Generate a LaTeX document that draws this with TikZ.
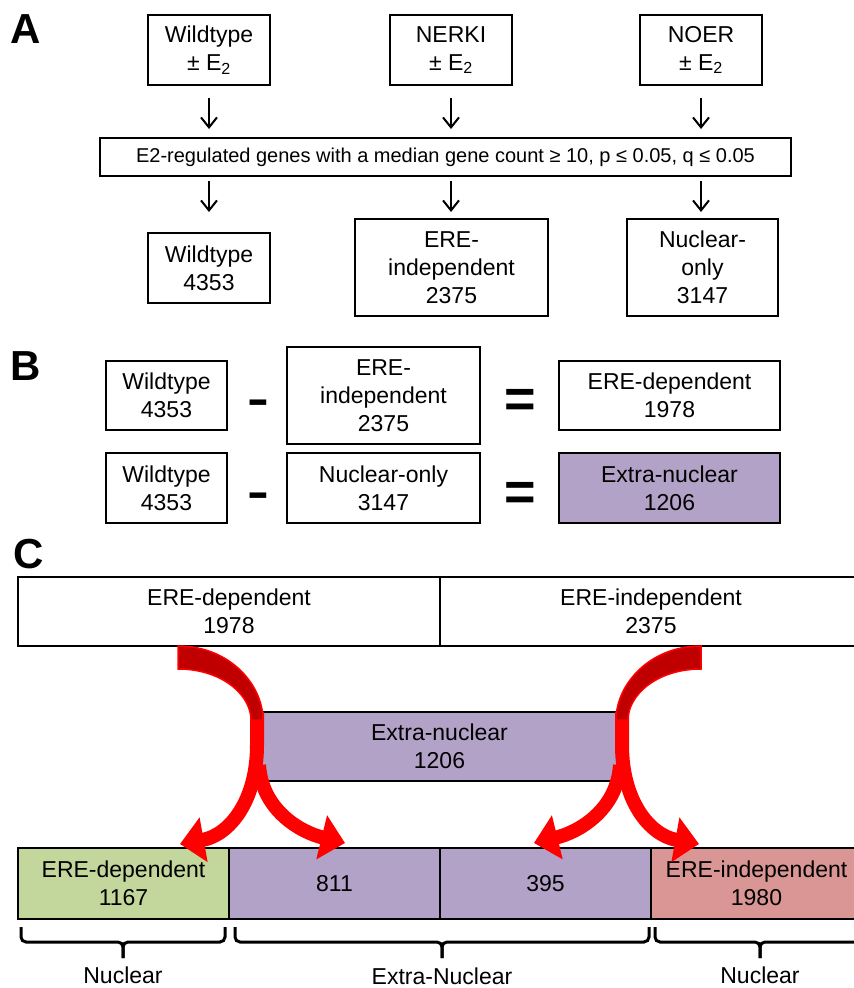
\documentclass[tikz,border=0pt]{standalone}
\usepackage{fontspec}
\setmainfont{Liberation Sans}
\usetikzlibrary{arrows.meta}
\definecolor{purp}{HTML}{B3A2C7}
\definecolor{grn}{HTML}{C3D69B}
\definecolor{pnk}{HTML}{D99694}
\definecolor{dred}{HTML}{C00000}
\definecolor{bred}{HTML}{FF0000}
\begin{document}
\begin{tikzpicture}[x=1pt,y=-1pt,
  box/.style={draw=black, line width=2pt, fill=white, inner sep=0pt, align=center,
    font=\fontsize{23}{28}\selectfont},
  darr/.style={-{Straight Barb[length=10pt,width=16pt]}, line width=2pt},
  panel/.style={font=\bfseries\fontsize{42}{42}\selectfont, anchor=base west, inner sep=0pt},
  opsign/.style={font=\bfseries\fontsize{57}{57}\selectfont, anchor=base, inner sep=0pt},
  eqsign/.style={font=\bfseries\fontsize{54}{54}\selectfont, anchor=base, inner sep=0pt},
  redarr/.style={draw=bred, line width=14pt, -{Triangle[width=44pt,length=24pt]}},
  redtop/.style={fill=dred, draw=bred, line width=1.5pt},
  bracel/.style={draw=black, line width=3pt, rounded corners=5pt},
  lab/.style={font=\fontsize{23}{28}\selectfont, anchor=base, inner sep=0pt}
]
\useasboundingbox (0,0) rectangle (854,988);
\clip (0,0) rectangle (854,988);
\fill[white] (0,0) rectangle (854,988);

% ---------- Panel A ----------
\node[panel] (pa) at (10,43) {A};
\node[box, minimum width=122pt, minimum height=70pt] (wt1) at (209,50) {Wildtype\\± E\textsubscript{2}};
\node[box, minimum width=122pt, minimum height=70pt] (nk1) at (451,50) {NERKI\\± E\textsubscript{2}};
\node[box, minimum width=122pt, minimum height=70pt] (no1) at (701,50) {NOER\\± E\textsubscript{2}};
\node[box, minimum width=691pt, minimum height=38pt, font=\fontsize{20}{24}\selectfont] (mid) at (445.5,157)
  {E2-regulated genes with a median gene count ≥ 10, p ≤ 0.05, q ≤ 0.05};
\node[box, minimum width=122pt, minimum height=70pt] (wt2) at (209,268) {Wildtype\\4353};
\node[box, minimum width=193pt, minimum height=97pt] (ei2) at (451.5,267.5) {ERE-\\independent\\2375};
\node[box, minimum width=151pt, minimum height=97pt] (no2) at (702.5,267.5) {Nuclear-\\only\\3147};

\draw[darr, shorten <=12pt, shorten >=8pt] (wt1.south) -- (wt1.south |- mid.north);
\draw[darr, shorten <=12pt, shorten >=8pt] (nk1.south) -- (nk1.south |- mid.north);
\draw[darr, shorten <=12pt, shorten >=8pt] (no1.south) -- (no1.south |- mid.north);
\draw[darr, shorten <=4pt, shorten >=20pt] (wt1.south |- mid.south) -- (wt2.north);
\draw[darr, shorten <=4pt, shorten >=6pt] (nk1.south |- mid.south) -- (nk1.south |- ei2.north);
\draw[darr, shorten <=4pt, shorten >=6pt] (no1.south |- mid.south) -- (no1.south |- no2.north);

% ---------- Panel B ----------
\node[panel] (pb) at (10,380) {B};
\node[box, minimum width=121pt, minimum height=69pt] (bwt1) at (166.5,395.5) {Wildtype\\4353};
\node[opsign] (bm1) at (258.5,414) {\scalebox{1.15}[0.8]{-}};
\node[box, minimum width=193pt, minimum height=97pt] (bei) at (383.5,395.5) {ERE-\\independent\\2375};
\node[eqsign] (be1) at (520,417) {=};
\node[box, minimum width=221pt, minimum height=69pt] (bed) at (669.5,395.5) {ERE-dependent\\1978};

\node[box, minimum width=121pt, minimum height=70pt] (bwt2) at (166.5,488) {Wildtype\\4353};
\node[opsign] (bm2) at (258.5,507) {\scalebox{1.15}[0.8]{-}};
\node[box, minimum width=193pt, minimum height=70pt] (bno) at (383.5,488) {Nuclear-only\\3147};
\node[eqsign] (be2) at (520,510) {=};
\node[box, minimum width=221pt, minimum height=70pt, fill=purp] (bxn) at (669.5,488) {Extra-nuclear\\1206};

% ---------- Panel C ----------
\node[panel] (pc) at (13,568) {C};
\node[box, minimum width=422pt, minimum height=69pt] (ted) at (229,611.5) {ERE-dependent\\1978};
\node[box, minimum width=422pt, minimum height=69pt] (tei) at (651,611.5) {ERE-independent\\2375};
\node[box, minimum width=359pt, minimum height=69pt, fill=purp] (cxn) at (439.5,746.5) {Extra-nuclear\\1206};

\node[box, minimum width=211pt, minimum height=71pt, fill=grn] (bg) at (123.5,883.5) {ERE-dependent\\1167};
\node[box, minimum width=211pt, minimum height=71pt, fill=purp] (b1) at (334.5,883.5) {811};
\node[box, minimum width=211pt, minimum height=71pt, fill=purp] (b2) at (545.5,883.5) {395};
\node[box, minimum width=211pt, minimum height=71pt, fill=pnk] (bp) at (756.5,883.5) {ERE-independent\\1980};

% red curved arrows (left)
\draw[redarr] (257,712) -- (257,745) .. controls (257,800) and (230,835) .. (180,844);
\draw[redarr] (259,765) .. controls (262,810) and (300,832) .. (345,843);
\draw[redtop] (178,646) .. controls (230,646) and (263,685) .. (263,720) -- (251,720)
  .. controls (251,695) and (222,669) .. (178,669) -- cycle;
% red curved arrows (right)
\draw[redarr] (622,712) -- (622,745) .. controls (622,800) and (649,835) .. (699,844);
\draw[redarr] (620,765) .. controls (617,810) and (579,832) .. (534,843);
\draw[redtop] (701,646) .. controls (649,646) and (616,685) .. (616,720) -- (628,720)
  .. controls (628,695) and (657,669) .. (701,669) -- cycle;

% braces
\draw[bracel] (21,927) |- (123,942) -- (123,958);
\draw[bracel] (225,927) |- (123,942) -- (123,958);
\draw[bracel] (235,927) |- (442,942) -- (442,958);
\draw[bracel] (649,927) |- (442,942) -- (442,958);
\draw[bracel] (655,927) |- (760,942) -- (760,958);
\draw[bracel] (865,927) |- (760,942) -- (760,958);

\node[lab] (ln1) at (123,983) {Nuclear};
\node[lab] (ln2) at (442,984) {Extra-Nuclear};
\node[lab] (ln3) at (760,983) {Nuclear};
\end{tikzpicture}
\end{document}
